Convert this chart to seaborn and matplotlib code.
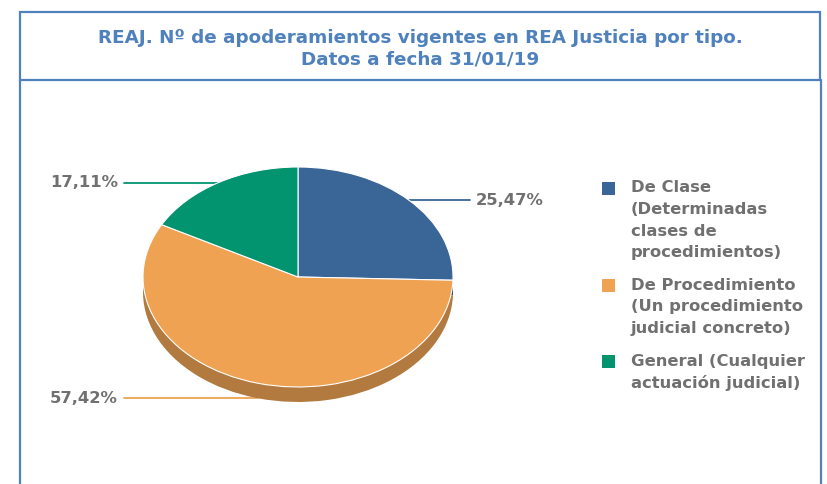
import numpy as np
import matplotlib
matplotlib.use("Agg")
import matplotlib.pyplot as plt
from matplotlib.patches import Rectangle
import seaborn as sns

# datos
categorias = [
    "De Clase\n(Determinadas\nclases de\nprocedimientos)",
    "De Procedimiento\n(Un procedimiento\njudicial concreto)",
    "General (Cualquier\nactuación judicial)",
]
porcentajes = [25.47, 57.42, 17.11]
etiquetas = ["25,47%", "57,42%", "17,11%"]
titulo = "REAJ. Nº de apoderamientos vigentes en REA Justicia por tipo.\nDatos a fecha 31/01/19"

colores = ["#3a6597", "#efa252", "#02946f"]
colores_lado = ["#2b4b72", "#b27a3e", "#016e52"]

sns.set_theme(style="white")
plt.rcParams["font.family"] = ["DejaVu Sans"]

W, H = 828, 484
fig = plt.figure(figsize=(W / 100, H / 100), dpi=100)

# capa de fondo en pixeles
ax = fig.add_axes([0, 0, 1, 1])
ax.set_xlim(0, W)
ax.set_ylim(H, 0)
ax.axis("off")

azul = "#4f81bd"
ax.add_patch(Rectangle((20, 12), 800, 68, fill=False, edgecolor=azul, lw=1.6))
ax.plot([20, 20], [80, H], color=azul, lw=1.6)
ax.plot([821, 821], [80, H], color=azul, lw=1.6)
ax.text(420, 49, titulo, ha="center", va="center", color=azul, fontsize=13.2,
        fontweight="bold", linespacing=1.25)

# tarta (elipse) con grosor
cx, cy, rx, ry, prof = 298, 277, 155, 110, 15
d = prof / ry
pax = fig.add_axes([(cx - rx) / W, 1 - (cy + ry + prof) / H, 2 * rx / W, (2 * ry + prof) / H])
pax.pie(porcentajes, colors=colores_lado, startangle=90, counterclock=False,
        center=(0, -d), radius=1, wedgeprops=dict(linewidth=0))
pax.pie(porcentajes, colors=colores, startangle=90, counterclock=False,
        radius=1, wedgeprops=dict(linewidth=0.8, edgecolor="white"))
pax.set_xlim(-1, 1)
pax.set_ylim(-1 - d, 1)
pax.set_aspect("auto")
pax.axis("off")

# etiquetas con linea guia
gris = "#707070"
fs = 11.8
ang = 90.0
for val, lab, col in zip(porcentajes, etiquetas, colores):
    span = val / 100 * 360
    mid = np.radians(ang - span / 2)
    ang -= span
    px = cx + rx * np.cos(mid)
    py = cy - ry * np.sin(mid) + (prof if np.sin(mid) < 0 else 0)
    if np.cos(mid) >= 0:
        ax.plot([px, 470], [py, py], color=col, lw=1.3)
        ax.text(476, py, lab, ha="left", va="center", color=gris, fontsize=fs,
                fontweight="bold")
    else:
        ax.plot([124, px], [py, py], color=col, lw=1.3)
        ax.text(118, py, lab, ha="right", va="center", color=gris, fontsize=fs,
                fontweight="bold")

# leyenda
y = 188
for cat, col in zip(categorias, colores):
    ax.add_patch(Rectangle((602, y - 6.5), 13, 13, color=col, lw=0))
    for linea in cat.split("\n"):
        ax.text(631, y, linea, ha="left", va="center", color=gris, fontsize=fs,
                fontweight="bold")
        y += 21.5
    y += 11.5

fig.savefig("out.png", dpi=100)
